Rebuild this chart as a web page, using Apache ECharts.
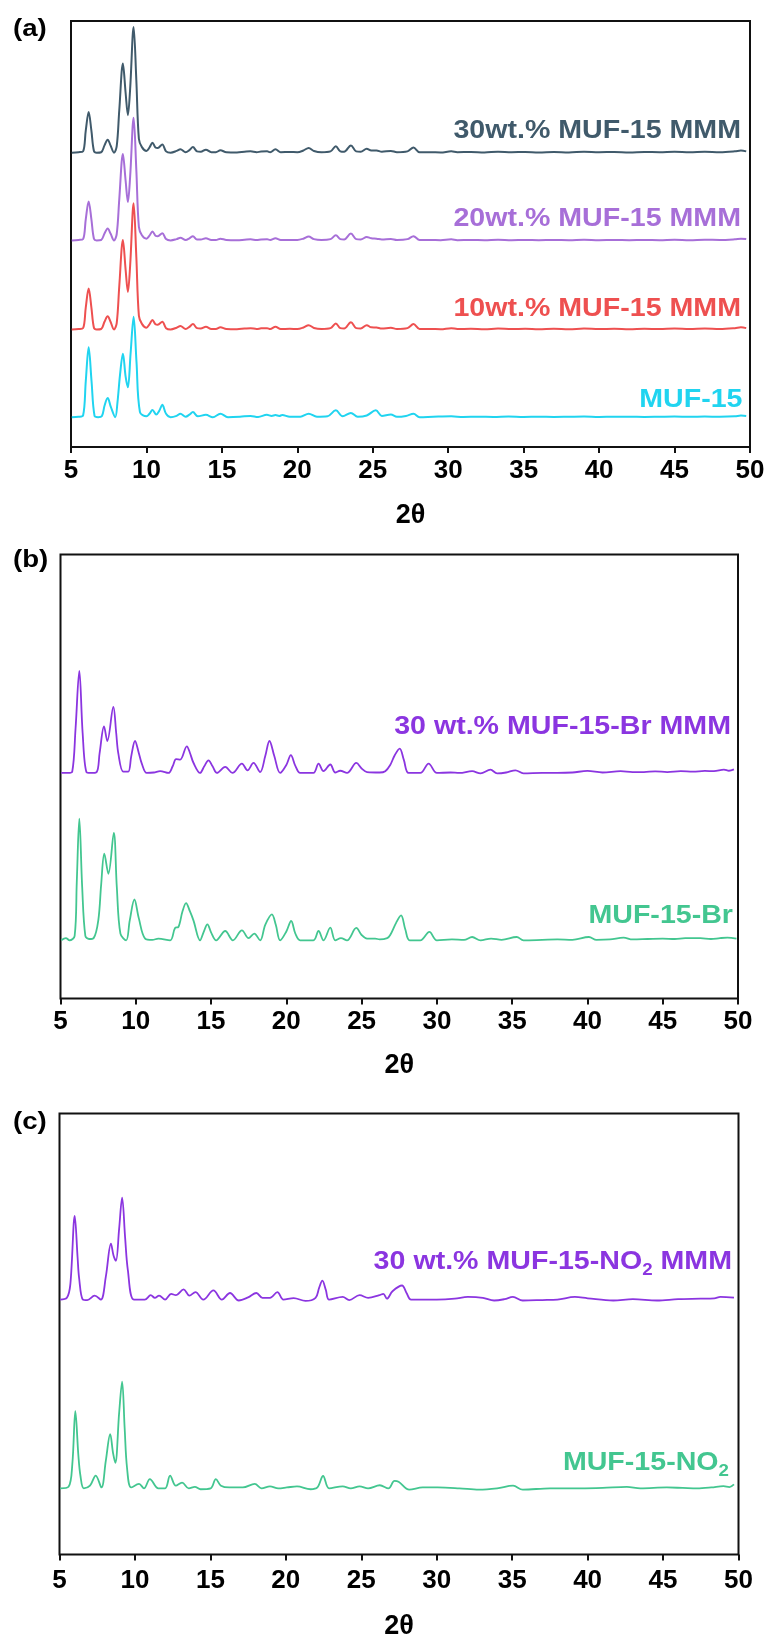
<!DOCTYPE html>
<html>
<head>
<meta charset="utf-8">
<title>PXRD patterns of MUF-15 and mixed-matrix membranes</title>
<script src="https://cdn.jsdelivr.net/npm/echarts/dist/echarts.min.js"></script>
<style>
  html, body { margin: 0; padding: 0; background: #ffffff; }
  #chart { width: 773px; height: 1641px; }
</style>
</head>
<body>
<div id="chart"></div>
<script>
// ---- 2θ axis ticks (shared by the three panels) ----
const ticks2Theta = [5, 10, 15, 20, 25, 30, 35, 40, 45, 50];

// ---- Panel (a): MUF-15 and its membranes, intensity (a.u.) above each trace's baseline ----
const muf15_30wt = [[5.05,0],[5.5,0.1],[5.8,0.3],[5.98,5.2],[6.17,9.55],[6.35,5.2],[6.52,0.4],[6.7,0],[7.0,0.1],[7.22,1.7],[7.43,3.05],[7.62,1.7],[7.85,0],[8.03,1.5],[8.2,10],[8.44,20.9],[8.62,14],[8.77,8.8],[8.92,15],[9.15,29.5],[9.33,17],[9.5,3.2],[9.7,1.3],[10.0,0.4],[10.2,1.2],[10.4,2.3],[10.6,1.2],[10.75,1.1],[11.05,1.9],[11.3,0.3],[11.6,0],[12.0,0.4],[12.25,0.8],[12.6,0.1],[12.85,0.6],[13.08,1.3],[13.35,0.3],[13.6,0.2],[13.94,0.7],[14.3,0.1],[14.6,0.1],[14.9,0.55],[15.3,0.1],[16.0,0.05],[16.5,0.2],[16.9,0.3],[17.3,0.1],[17.6,0.25],[18.0,0.3],[18.2,0.1],[18.55,0.8],[18.9,0.1],[19.5,0.15],[20.0,0.1],[20.4,0.5],[20.75,1.1],[21.1,0.4],[21.6,0.1],[22.2,0.3],[22.55,1.5],[22.85,0.3],[23.1,0.2],[23.55,1.7],[23.9,0.3],[24.2,0.2],[24.6,0.9],[24.9,0.5],[25.25,0.5],[25.6,0.2],[26.2,0.4],[26.6,0.1],[27.3,0.3],[27.7,1.2],[28.1,0.1],[28.8,0.1],[29.5,0.05],[30.2,0.3],[30.6,0.1],[31.5,0.15],[32.4,0.05],[33.3,0.2],[34.2,0.1],[35.1,0.15],[36,0.05],[37,0.15],[38,0.05],[39,0.2],[40,0.1],[41,0.15],[42,0.05],[43,0.15],[44,0.1],[45,0.2],[46,0.1],[47,0.2],[48,0.1],[49,0.3],[49.4,0.5],[49.75,0.3]];
const muf15_20wt = [[5.05,0],[5.5,0.1],[5.8,0.3],[5.98,5.0],[6.17,9.15],[6.35,5.0],[6.52,0.4],[6.7,0],[7.0,0.1],[7.22,1.6],[7.43,2.8],[7.62,1.6],[7.85,0],[8.03,1.5],[8.2,9.7],[8.44,20.3],[8.62,14],[8.77,9.0],[8.92,15],[9.15,28.8],[9.33,16.5],[9.5,3.1],[9.7,1.2],[10.0,0.4],[10.2,1.1],[10.4,2.1],[10.6,1.1],[10.75,1.0],[11.05,1.7],[11.3,0.3],[11.6,0],[12.0,0.3],[12.25,0.6],[12.6,0.1],[12.85,0.5],[13.08,1.0],[13.35,0.2],[13.6,0.2],[13.94,0.5],[14.3,0.1],[14.6,0.1],[14.9,0.4],[15.3,0.1],[16.0,0.05],[16.5,0.15],[16.9,0.25],[17.3,0.1],[17.6,0.2],[18.0,0.25],[18.2,0.1],[18.55,0.5],[18.9,0.1],[19.5,0.1],[20.0,0.1],[20.4,0.4],[20.75,0.9],[21.1,0.3],[21.6,0.1],[22.2,0.3],[22.55,1.2],[22.85,0.3],[23.1,0.2],[23.55,1.6],[23.9,0.3],[24.2,0.2],[24.6,0.8],[24.9,0.5],[25.25,0.4],[25.6,0.2],[26.2,0.35],[26.6,0.1],[27.3,0.3],[27.7,1.0],[28.1,0.1],[28.8,0.1],[29.5,0.05],[30.2,0.25],[30.6,0.05],[31.5,0.1],[32.4,0.05],[33.3,0.15],[34.2,0.05],[35.1,0.1],[36,0.05],[37,0.1],[38,0.05],[39,0.15],[40,0.05],[41,0.1],[42,0.05],[43,0.1],[44,0.05],[45,0.15],[46,0.05],[47,0.15],[48,0.1],[49,0.25],[49.4,0.4],[49.75,0.3]];
const muf15_10wt = [[5.05,0],[5.5,0.1],[5.8,0.3],[5.98,5.2],[6.17,9.6],[6.35,5.2],[6.52,0.4],[6.7,0],[7.0,0.1],[7.22,1.8],[7.43,3.1],[7.62,1.8],[7.85,0],[8.03,1.5],[8.2,10.2],[8.44,21.0],[8.62,14],[8.77,8.8],[8.92,15],[9.15,29.6],[9.33,17],[9.5,3.2],[9.7,1.3],[10.0,0.4],[10.2,1.2],[10.4,2.2],[10.6,1.2],[10.75,1.1],[11.05,1.8],[11.3,0.3],[11.6,0],[12.0,0.4],[12.25,0.8],[12.6,0.1],[12.85,0.6],[13.08,1.25],[13.35,0.3],[13.6,0.2],[13.94,0.6],[14.3,0.1],[14.6,0.1],[14.9,0.5],[15.3,0.1],[16.0,0.05],[16.5,0.2],[16.9,0.3],[17.3,0.1],[17.6,0.25],[18.0,0.3],[18.2,0.1],[18.55,0.6],[18.9,0.1],[19.5,0.15],[20.0,0.1],[20.4,0.45],[20.75,1.0],[21.1,0.35],[21.6,0.1],[22.2,0.3],[22.55,1.4],[22.85,0.3],[23.1,0.2],[23.55,1.7],[23.9,0.3],[24.2,0.2],[24.6,1.0],[24.9,0.5],[25.25,0.45],[25.6,0.2],[26.2,0.4],[26.6,0.1],[27.3,0.3],[27.7,1.25],[28.1,0.1],[28.8,0.1],[29.5,0.05],[30.2,0.3],[30.6,0.1],[31.5,0.15],[32.4,0.05],[33.3,0.2],[34.2,0.1],[35.1,0.15],[36,0.05],[37,0.15],[38,0.05],[39,0.2],[40,0.1],[41,0.15],[42,0.05],[43,0.15],[44,0.1],[45,0.2],[46,0.1],[47,0.2],[48,0.1],[49,0.3],[49.4,0.5],[49.75,0.3]];
const muf15 = [[5.05,0],[5.5,0.1],[5.8,0.4],[5.98,8.5],[6.17,16.4],[6.36,8.5],[6.56,0.3],[6.8,0],[7.05,0.3],[7.23,2.8],[7.43,4.5],[7.64,2.4],[7.93,0],[8.08,3.5],[8.25,10],[8.44,14.9],[8.62,9.5],[8.77,7.0],[8.95,15],[9.15,23.6],[9.34,13],[9.57,1.2],[10.0,0.2],[10.2,0.8],[10.4,1.7],[10.65,0.6],[10.85,1.5],[11.05,2.9],[11.3,0.8],[11.6,0],[12.0,0.3],[12.25,0.8],[12.6,0.1],[12.85,0.6],[13.08,1.2],[13.4,0.2],[13.94,0.55],[14.4,0],[14.9,0.8],[15.4,0],[16.2,0.1],[16.9,0.3],[17.4,0.05],[17.98,0.55],[18.3,0.3],[18.55,0.5],[18.8,0.3],[19.0,0.5],[19.5,0.1],[20.2,0.1],[20.75,0.8],[21.3,0.1],[22.0,0.2],[22.55,1.6],[23.0,0.2],[23.55,1.0],[24.0,0.1],[24.6,0.4],[25.2,1.6],[25.6,0.3],[26.2,0.6],[26.6,0.1],[27.2,0.3],[27.7,0.8],[28.1,0],[29,0.1],[30.2,0.2],[31,0.05],[32,0.1],[33,0.05],[34,0.15],[35,0.05],[36,0.1],[37,0.05],[38,0.1],[39,0.15],[40,0.05],[41,0.1],[42,0.1],[43,0.05],[44,0.1],[45,0.15],[46,0.1],[47,0.15],[48,0.1],[49,0.2],[49.4,0.4],[49.75,0.3]];

// ---- Panel (b): MUF-15-Br ----
const br_30wt = [[5.05,0],[5.5,0],[5.78,0.3],[6.0,10],[6.25,23.0],[6.47,9],[6.72,0.2],[7.0,0],[7.4,0.2],[7.6,4.5],[7.89,10.5],[8.11,7.2],[8.51,14.9],[8.7,9],[8.84,4.4],[9.17,0.3],[9.5,0.3],[9.7,3.8],[9.95,7.2],[10.2,4.5],[10.4,2.1],[10.73,0],[11.2,0.1],[11.62,0.4],[12.17,0],[12.45,1.5],[12.68,3.1],[12.95,3.0],[13.39,6.0],[13.6,4.5],[13.83,2.3],[14.27,0],[14.55,1.5],[14.83,2.85],[15.1,1.5],[15.39,0],[15.94,1.35],[16.42,0],[17.05,2.1],[17.42,0.6],[17.82,2.25],[18.26,0.2],[18.6,3.8],[18.88,7.2],[19.2,3.8],[19.59,0],[20.0,1.8],[20.3,4.0],[20.6,1.6],[20.92,0],[21.8,0],[22.14,2.1],[22.47,0.4],[22.92,1.9],[23.25,0.1],[23.58,0.5],[24.03,0],[24.65,2.25],[25.0,1.0],[25.36,0.2],[26.2,0.1],[26.57,0.4],[26.9,1.8],[27.2,4.0],[27.53,5.5],[27.8,3.0],[28.12,0],[28.9,0],[29.45,2.1],[30.0,0],[30.9,0.1],[31.5,0],[32.34,0.4],[32.9,-0.1],[33.56,0.75],[34.0,-0.1],[34.6,0.1],[35.22,0.6],[35.75,-0.1],[37,0],[38,0],[39,0.1],[40.0,0.45],[41,0.1],[42.2,0.4],[43,0.2],[43.75,0.2],[44.5,0.35],[45.3,0.2],[46.2,0.4],[47,0.3],[47.8,0.45],[48.4,0.4],[49.07,0.75],[49.4,0.5],[49.73,0.8]];
const br = [[5.05,0],[5.36,0.5],[5.6,0],[5.94,1.0],[6.08,13],[6.25,27.4],[6.44,12],[6.65,1.0],[6.9,0.3],[7.2,0.5],[7.51,4.5],[7.7,12.5],[7.91,19.5],[8.18,15.0],[8.54,24.2],[8.74,12],[8.98,1.5],[9.36,0],[9.6,4.5],[9.91,9.2],[10.2,5],[10.62,0.4],[11.1,0.1],[11.5,0.4],[12.28,0],[12.61,2.8],[12.83,3.0],[13.1,6.5],[13.34,8.4],[13.6,6.5],[13.83,4.5],[14.27,0],[14.5,1.8],[14.76,3.6],[15.0,1.8],[15.34,0],[15.94,2.1],[16.45,0],[17.05,2.25],[17.49,0.5],[17.87,1.5],[18.26,0],[18.6,3.5],[19.04,5.85],[19.3,3.5],[19.59,0],[20.0,2],[20.32,4.35],[20.6,1.5],[20.92,0],[21.8,0],[22.14,2.1],[22.47,0],[22.92,2.85],[23.25,0],[23.63,0.5],[24.03,0],[24.65,2.8],[25.0,1.2],[25.36,0.4],[25.9,0.4],[26.2,0.2],[26.7,0.5],[26.9,1.2],[27.3,4.0],[27.62,5.6],[27.9,2.5],[28.19,0],[28.9,0],[29.5,1.9],[30.0,0],[31.0,0.2],[31.8,0.1],[32.34,0.75],[32.9,0],[33.6,0.4],[34.3,0.1],[35.3,0.75],[35.75,0],[37,0.1],[38,0.2],[39,0.1],[40.1,0.75],[40.6,0.1],[41.5,0.2],[42.4,0.6],[43,0.2],[44,0.3],[45.0,0.4],[45.8,0.3],[46.5,0.5],[47.5,0.5],[48.2,0.3],[48.8,0.5],[49.3,0.6],[49.9,0.4]];

// ---- Panel (c): MUF-15-NO2 ----
const no2_30wt = [[5.04,0],[5.49,0.4],[5.72,3.5],[6.01,19.0],[6.2,9.5],[6.3,4.9],[6.55,0],[6.84,-0.1],[7.33,0.9],[7.74,0],[8.07,5.2],[8.41,12.7],[8.58,10],[8.74,8.8],[8.95,16],[9.15,23.1],[9.35,14],[9.53,6.7],[9.93,0],[10.65,0],[11.05,1.0],[11.32,0.4],[11.6,0.9],[12.0,0],[12.4,1.3],[12.71,1.0],[13.23,2.3],[13.61,0.9],[14.01,1.7],[14.53,0],[15.2,2.1],[15.76,0],[16.3,1.5],[16.88,-0.2],[17.5,0.5],[18.05,1.5],[18.45,0.4],[18.95,0.4],[19.44,1.7],[19.84,0],[20.52,0.35],[21.3,-0.3],[21.97,0.4],[22.2,2.6],[22.42,4.3],[22.65,2.2],[22.87,0],[23.77,0.6],[24.2,-0.1],[24.89,1.0],[25.45,0.4],[26.2,1.0],[26.46,1.3],[26.7,0.2],[27.07,1.9],[27.7,3.2],[28.0,1.5],[28.3,0],[30.0,0],[31.2,0.2],[32.06,0.6],[33.06,0.4],[33.8,-0.2],[34.5,0.1],[35.05,0.6],[35.7,-0.2],[37,-0.1],[38,0],[39.16,0.6],[40,0.3],[41.7,-0.2],[43,0.1],[44.6,-0.2],[46,0.1],[47.5,0.2],[48.4,0.3],[48.8,0.6],[49.7,0.45]];
const no2 = [[5.04,0],[5.6,0.35],[5.85,5.5],[6.05,17.5],[6.25,7.5],[6.39,2.8],[6.61,0],[7.02,0.6],[7.4,2.9],[7.78,0.2],[8.07,6.3],[8.36,12.3],[8.55,8],[8.7,5.8],[8.95,17],[9.15,24.2],[9.32,13.5],[9.48,4.5],[9.75,0.2],[10.27,1.0],[10.6,0],[10.99,2.1],[11.55,0],[12.0,0],[12.33,2.9],[12.71,0.6],[13.12,1.3],[13.57,0],[13.97,0.35],[14.35,-0.2],[15.02,0],[15.36,2.1],[15.7,0.6],[16.26,0.2],[17.15,0.2],[17.94,1.0],[18.39,0],[18.95,0.45],[19.5,0],[20.07,0.2],[20.74,0.45],[21.64,-0.2],[22.09,0.2],[22.47,2.8],[22.87,0],[23.77,0.45],[24.3,0],[24.89,0.45],[25.45,0],[26.23,0.7],[26.8,0],[27.2,1.7],[27.47,1.5],[28.18,-0.3],[29.07,0.2],[30.07,0.2],[31.5,0],[32.8,-0.3],[34,0],[35.06,0.6],[35.7,-0.3],[37.5,0],[39.5,0],[41,0.1],[42.6,0.35],[43.5,0],[45.25,0.2],[46.3,0.1],[47.25,0],[48.2,0.2],[49.0,0.5],[49.4,0.3],[49.7,0.9]];

// vertical stacking offsets of each trace (a.u.)
const offsetsA = [69.1, 48.5, 27.6, 7.0];
const offsetsB = [50.8, 13.1];
const offsetsC = [57.8, 15.0];

const namesA = ['30wt.% MUF-15 MMM', '20wt.% MUF-15 MMM', '10wt.% MUF-15 MMM', 'MUF-15'];
const namesB = ['30 wt.% MUF-15-Br MMM', 'MUF-15-Br'];
const namesC = ['30 wt.% MUF-15-NO2 MMM', 'MUF-15-NO2'];

const colorsA = ['#405a6b', '#a76fd8', '#ee5050', '#20d4f0'];
const colorsBC = ['#8b35e0', '#43c690'];

const FONT = '"Liberation Sans", Arial, Helvetica, sans-serif';

const panels = [
  { grid: { left: 71, top: 21, width: 679, height: 426 }, labelMargin: 11, nameGap: 69,
    traces: [muf15_30wt, muf15_20wt, muf15_10wt, muf15], offsets: offsetsA, names: namesA, colors: colorsA, width: 2 },
  { grid: { left: 60.5, top: 554.5, width: 677.5, height: 444 }, labelMargin: 10, nameGap: 67,
    traces: [br_30wt, br], offsets: offsetsB, names: namesB, colors: colorsBC, width: 1.8 },
  { grid: { left: 59.5, top: 1113.5, width: 679, height: 441.5 }, labelMargin: 13, nameGap: 72,
    traces: [no2_30wt, no2], offsets: offsetsC, names: namesC, colors: colorsBC, width: 1.8 }
];

const grids = [], xAxes = [], yAxes = [], series = [];
panels.forEach((p, i) => {
  grids.push(Object.assign({ show: true, borderColor: '#111', borderWidth: 2, backgroundColor: 'transparent' }, p.grid));
  xAxes.push({
    type: 'value', gridIndex: i,
    min: ticks2Theta[0], max: ticks2Theta[ticks2Theta.length - 1], interval: 5,
    axisLine: { show: false },
    axisTick: { show: true, inside: false, length: 6, lineStyle: { color: '#111', width: 2 } },
    splitLine: { show: false },
    axisLabel: { fontSize: 26, fontWeight: 'bold', color: '#000', fontFamily: FONT, margin: p.labelMargin, showMinLabel: true, showMaxLabel: true },
    name: '2θ', nameLocation: 'middle', nameGap: p.nameGap,
    nameTextStyle: { fontSize: 27, fontWeight: 'bold', color: '#000', fontFamily: FONT, verticalAlign: 'middle' }
  });
  yAxes.push({ type: 'value', gridIndex: i, min: 0, max: 100, show: false });
  p.traces.forEach((trace, k) => {
    const off = p.offsets[k];
    series.push({
      type: 'line', name: p.names[k], xAxisIndex: i, yAxisIndex: i,
      data: trace.map(([x, y]) => [x, y + off]),
      symbol: 'none', showSymbol: false, smooth: 0.35,
      lineStyle: { color: p.colors[k], width: p.width }, itemStyle: { color: p.colors[k] },
      silent: true, animation: false
    });
  });
});

// trace captions (right-aligned), panel letters
function caption(text, right, cy, color) {
  return { type: 'text', x: right, y: cy, scaleX: 1.1,
    style: { text: text, fill: color, font: 'bold 26px ' + FONT, align: 'right', verticalAlign: 'middle', textAlign: 'right', textVerticalAlign: 'middle' } };
}
function subCaption(main, tail, right, cy, color) {
  const m = { fontSize: 26, fontWeight: 'bold', fontFamily: FONT, fill: color, color: color, lineHeight: 34, verticalAlign: 'middle' };
  const s = { fontSize: 17, fontWeight: 'bold', fontFamily: FONT, fill: color, color: color, lineHeight: 34, verticalAlign: 'bottom' };
  return { type: 'text', x: right, y: cy, scaleX: 1.1,
    style: { text: '{m|' + main + '}{s|2}' + (tail ? '{m|' + tail + '}' : ''), rich: { m: m, s: s }, fill: color,
      font: 'bold 26px ' + FONT, align: 'right', verticalAlign: 'middle', textAlign: 'right', textVerticalAlign: 'middle' } };
}
function letter(text, cy) {
  return { type: 'text', x: 13, y: cy, scaleX: 1.15,
    style: { text: text, fill: '#000', font: 'bold 24px ' + FONT, align: 'left', verticalAlign: 'middle', textAlign: 'left', textVerticalAlign: 'middle' } };
}

const graphics = [
  letter('(a)', 29), letter('(b)', 560), letter('(c)', 1122),
  caption(namesA[0], 741, 130.5, colorsA[0]),
  caption(namesA[1], 741, 218.5, colorsA[1]),
  caption(namesA[2], 741, 308.5, colorsA[2]),
  caption(namesA[3], 742.5, 400, colorsA[3]),
  caption(namesB[0], 731, 727, colorsBC[0]),
  caption(namesB[1], 733, 915.5, colorsBC[1]),
  subCaption('30 wt.% MUF-15-NO', ' MMM', 732, 1262, colorsBC[0]),
  subCaption('MUF-15-NO', '', 729, 1463, colorsBC[1])
];

const chart = echarts.init(document.getElementById('chart'), null, { renderer: 'canvas' });
chart.setOption({
  animation: false,
  backgroundColor: '#ffffff',
  grid: grids, xAxis: xAxes, yAxis: yAxes, series: series,
  graphic: graphics
});
</script>
</body>
</html>
